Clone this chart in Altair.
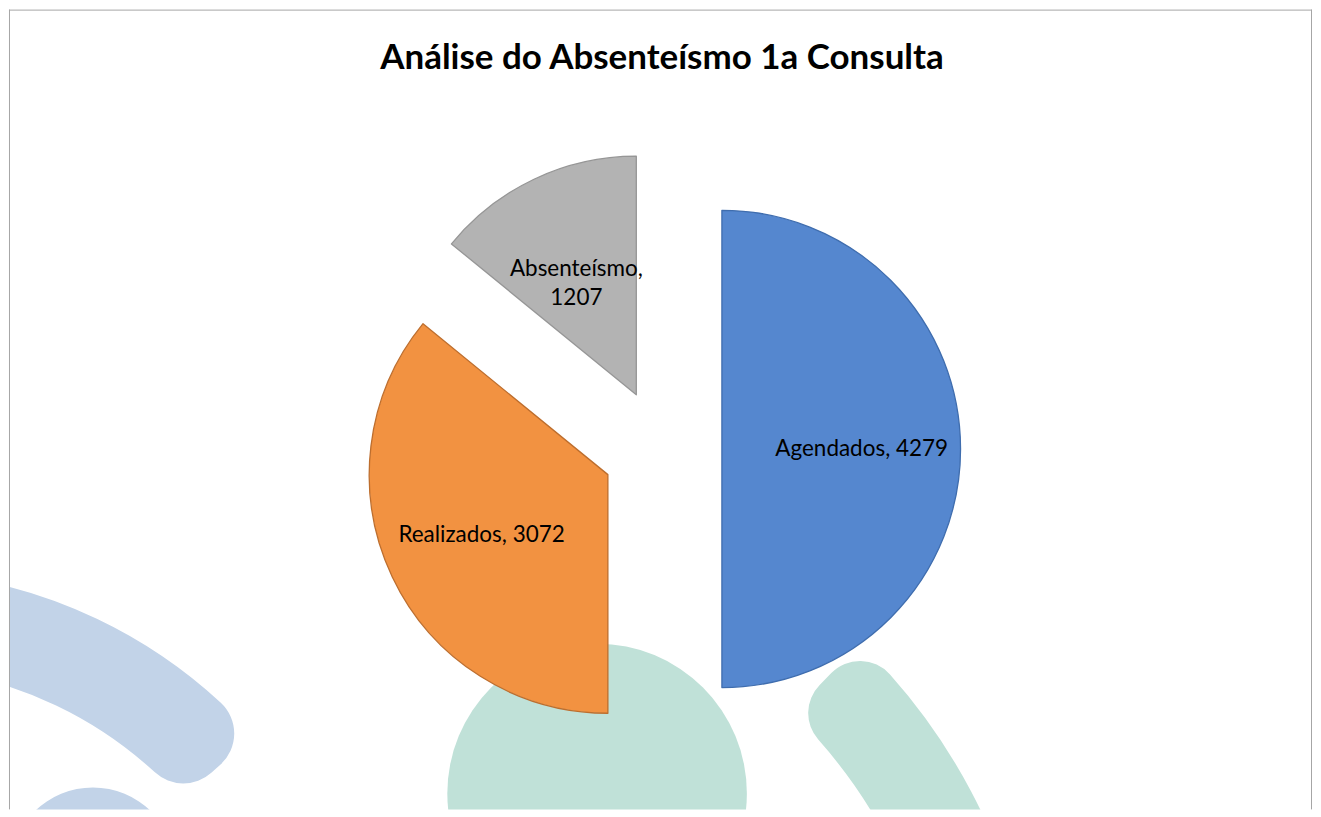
import math
import altair as alt
import pandas as pd

# ---- data ----
categories = ["Agendados", "Realizados", "Absenteísmo"]
values = [4279, 3072, 1207]
label_texts = ["Agendados, 4279", "Realizados, 3072", "Absenteísmo,\n1207"]
fill_colors = ["#5587CF", "#F29241", "#B3B3B3"]
stroke_colors = ["#3F6DAE", "#BD6E2E", "#969696"]
title_text = "Análise do Absenteísmo 1a Consulta"

# ---- layout constants ----
W, H = 1305, 801
R = 239
EXPLODE = 60
LABEL_R = 140
CX, CY = 654, 440

total = sum(values)

df = pd.DataFrame({
    "category": categories,
    "value": values,
    "order": list(range(len(categories))),
    "label": label_texts,
    "fill": fill_colors,
    "stroke": stroke_colors,
})

xs = alt.Scale(domain=[-CX, W - CX], nice=False, zero=False)
ys = alt.Scale(domain=[-(H - CY), CY], nice=False, zero=False)
ts = alt.Scale(domain=[0, total], range=[0, 2 * math.pi], nice=False, zero=True)

base = alt.Chart(df).transform_window(
    cum="sum(value)", sort=[alt.SortField("order")], frame=[None, 0]
).transform_calculate(
    start="datum.cum - datum.value",
    midv="datum.cum - datum.value / 2",
).transform_calculate(
    ang=f"datum.midv / {total} * 2 * PI",
).transform_calculate(
    ox=f"sin(datum.ang) * {EXPLODE}",
    oy=f"cos(datum.ang) * {EXPLODE}",
)

pie = base.mark_arc(outerRadius=R, strokeWidth=1.3, strokeJoin="round").encode(
    x=alt.X("ox:Q", scale=xs, axis=None),
    y=alt.Y("oy:Q", scale=ys, axis=None),
    theta=alt.Theta("start:Q", scale=ts, stack=None),
    theta2=alt.Theta2("cum:Q"),
    fill=alt.Fill("fill:N", scale=None),
    stroke=alt.Stroke("stroke:N", scale=None),
)

labels = base.mark_text(
    font="Lato", fontSize=22.5, color="#000000", lineBreak="\n",
    lineHeight=30, align="center", baseline="middle",
).encode(
    x=alt.X("ox:Q", scale=xs, axis=None),
    y=alt.Y("oy:Q", scale=ys, axis=None),
    theta=alt.Theta("midv:Q", scale=ts, stack=None),
    radius=alt.value(LABEL_R),
    text="label:N",
)

one = alt.Data(values=[{}])


def deco_arc(cx, cy, r_out, r_in, t0, t1, color, corner=0):
    return alt.Chart(one).mark_arc(
        color=color, clip=True, cornerRadius=corner, strokeWidth=0
    ).encode(
        x=alt.value(cx), y=alt.value(cy),
        theta=alt.value(t0), theta2=alt.value(t1),
        radius=alt.value(r_out), radius2=alt.value(r_in),
    )


BLUE_WM = "#C2D3E8"
GREEN_WM = "#C0E1D8"
decos = [
    deco_arc(589, 785, 150, 0, 0, 2 * math.pi, GREEN_WM),
    deco_arc(441, 1059, 591, 494, 0.77, 1.4, GREEN_WM, 40),
    deco_arc(-125, 1058, 496, 400, 0.05, 0.84, BLUE_WM, 42),
    deco_arc(84, 862, 83, 0, 0, 2 * math.pi, BLUE_WM),
]

FRAME = "#A6A6A6"
frame = [
    alt.Chart(one).mark_rule(color=FRAME, strokeWidth=1).encode(
        x=alt.value(0.5), y=alt.value(0), y2=alt.value(H)),
    alt.Chart(one).mark_rule(color=FRAME, strokeWidth=1).encode(
        x=alt.value(W - 0.5), y=alt.value(0), y2=alt.value(H)),
    alt.Chart(one).mark_rule(color=FRAME, strokeWidth=1).encode(
        x=alt.value(0), x2=alt.value(W), y=alt.value(0.5)),
]

title = alt.Chart(one).mark_text(
    text=title_text, font="Lato", fontSize=35, fontWeight="bold",
    color="#000000", align="center", baseline="alphabetic",
).encode(x=alt.value(654), y=alt.value(59))

chart = alt.layer(*decos, pie, labels, title, *frame).properties(
    width=W, height=H, padding=0
).configure_view(stroke=None)

chart.save("out.html", embed_options={"renderer": "svg", "actions": False})
